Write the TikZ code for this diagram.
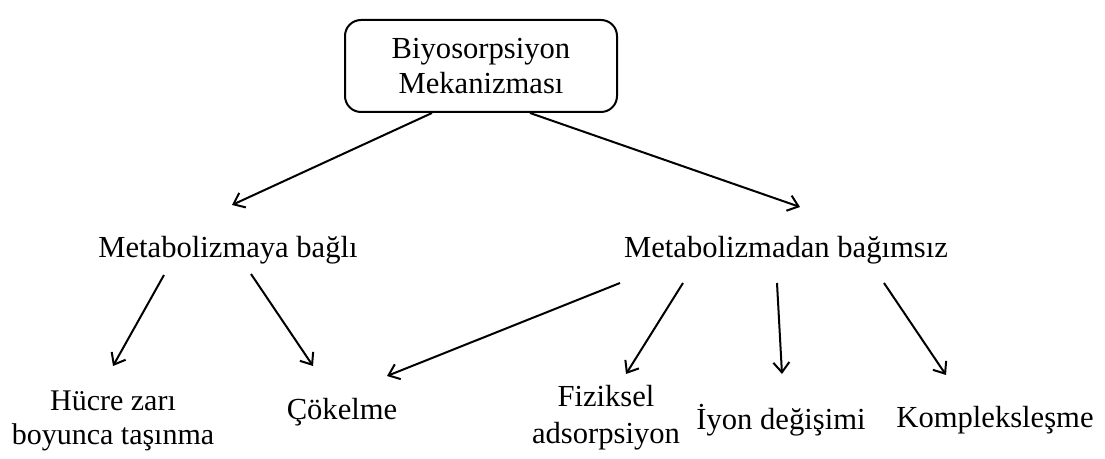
\documentclass[tikz,border=0pt]{standalone}
\usepackage{fontspec}
\setmainfont{Liberation Serif}
\usetikzlibrary{arrows.meta}

\begin{document}
\begin{tikzpicture}[x=0.5pt,y=-0.5pt,
    lbl/.style={inner sep=0pt, align=center, font=\fontsize{15.3}{17}\selectfont},
    arr/.style={line width=1pt,-{Straight Barb[length=5pt,width=8pt,line width=1pt]}}]
    \useasboundingbox (0,0) rectangle (1105,459);% page size

    \node [draw, line width=1pt, rounded corners=8pt, minimum width=136pt, minimum height=46pt,
           align=center, font=\fontsize{15.3}{17.5}\selectfont] (top) at (481,66) {Biyosorpsiyon\\Mekanizması};

    \node [lbl] (dep) at (228,250) {Metabolizmaya bağlı};
    \node [lbl] (indep) at (786,250) {Metabolizmadan bağımsız};

    \node [lbl, font=\fontsize{15}{17}\selectfont] (cell) at (113,421) {Hücre zarı\\boyunca taşınma};
    \node [lbl] (prec) at (342,412) {Çökelme};
    \node [lbl, font=\fontsize{15.3}{18.5}\selectfont] (phys) at (606,418) {Fiziksel\\adsorpsiyon};
    \node [lbl] (ion) at (781,420) {İyon değişimi};
    \node [lbl] (compl) at (995,420) {Kompleksleşme};

    \draw [arr] ([xshift=-24.5pt]top.south) -- ([shift={(4,-45)}]dep.center);
    \draw [arr] ([xshift=24.5pt]top.south) -- ([shift={(14,-43)}]indep.center);

    \draw [arr] ([shift={(-64,25)}]dep.center) -- ([shift={(0,-55)}]cell.center);
    \draw [arr] ([shift={(23,24)}]dep.center) -- ([shift={(-29,-46)}]prec.center);

    \draw [arr] ([shift={(-166,33)}]indep.center) -- ([shift={(45,-36)}]prec.center);
    \draw [arr] ([shift={(-103,33)}]indep.center) -- ([shift={(20,-44)}]phys.center);
    \draw [arr] ([shift={(-9,33)}]indep.center) -- ([shift={(1,-46)}]ion.center);
    \draw [arr] ([shift={(98,33)}]indep.center) -- ([shift={(-49,-45)}]compl.center);
\end{tikzpicture}
\end{document}
